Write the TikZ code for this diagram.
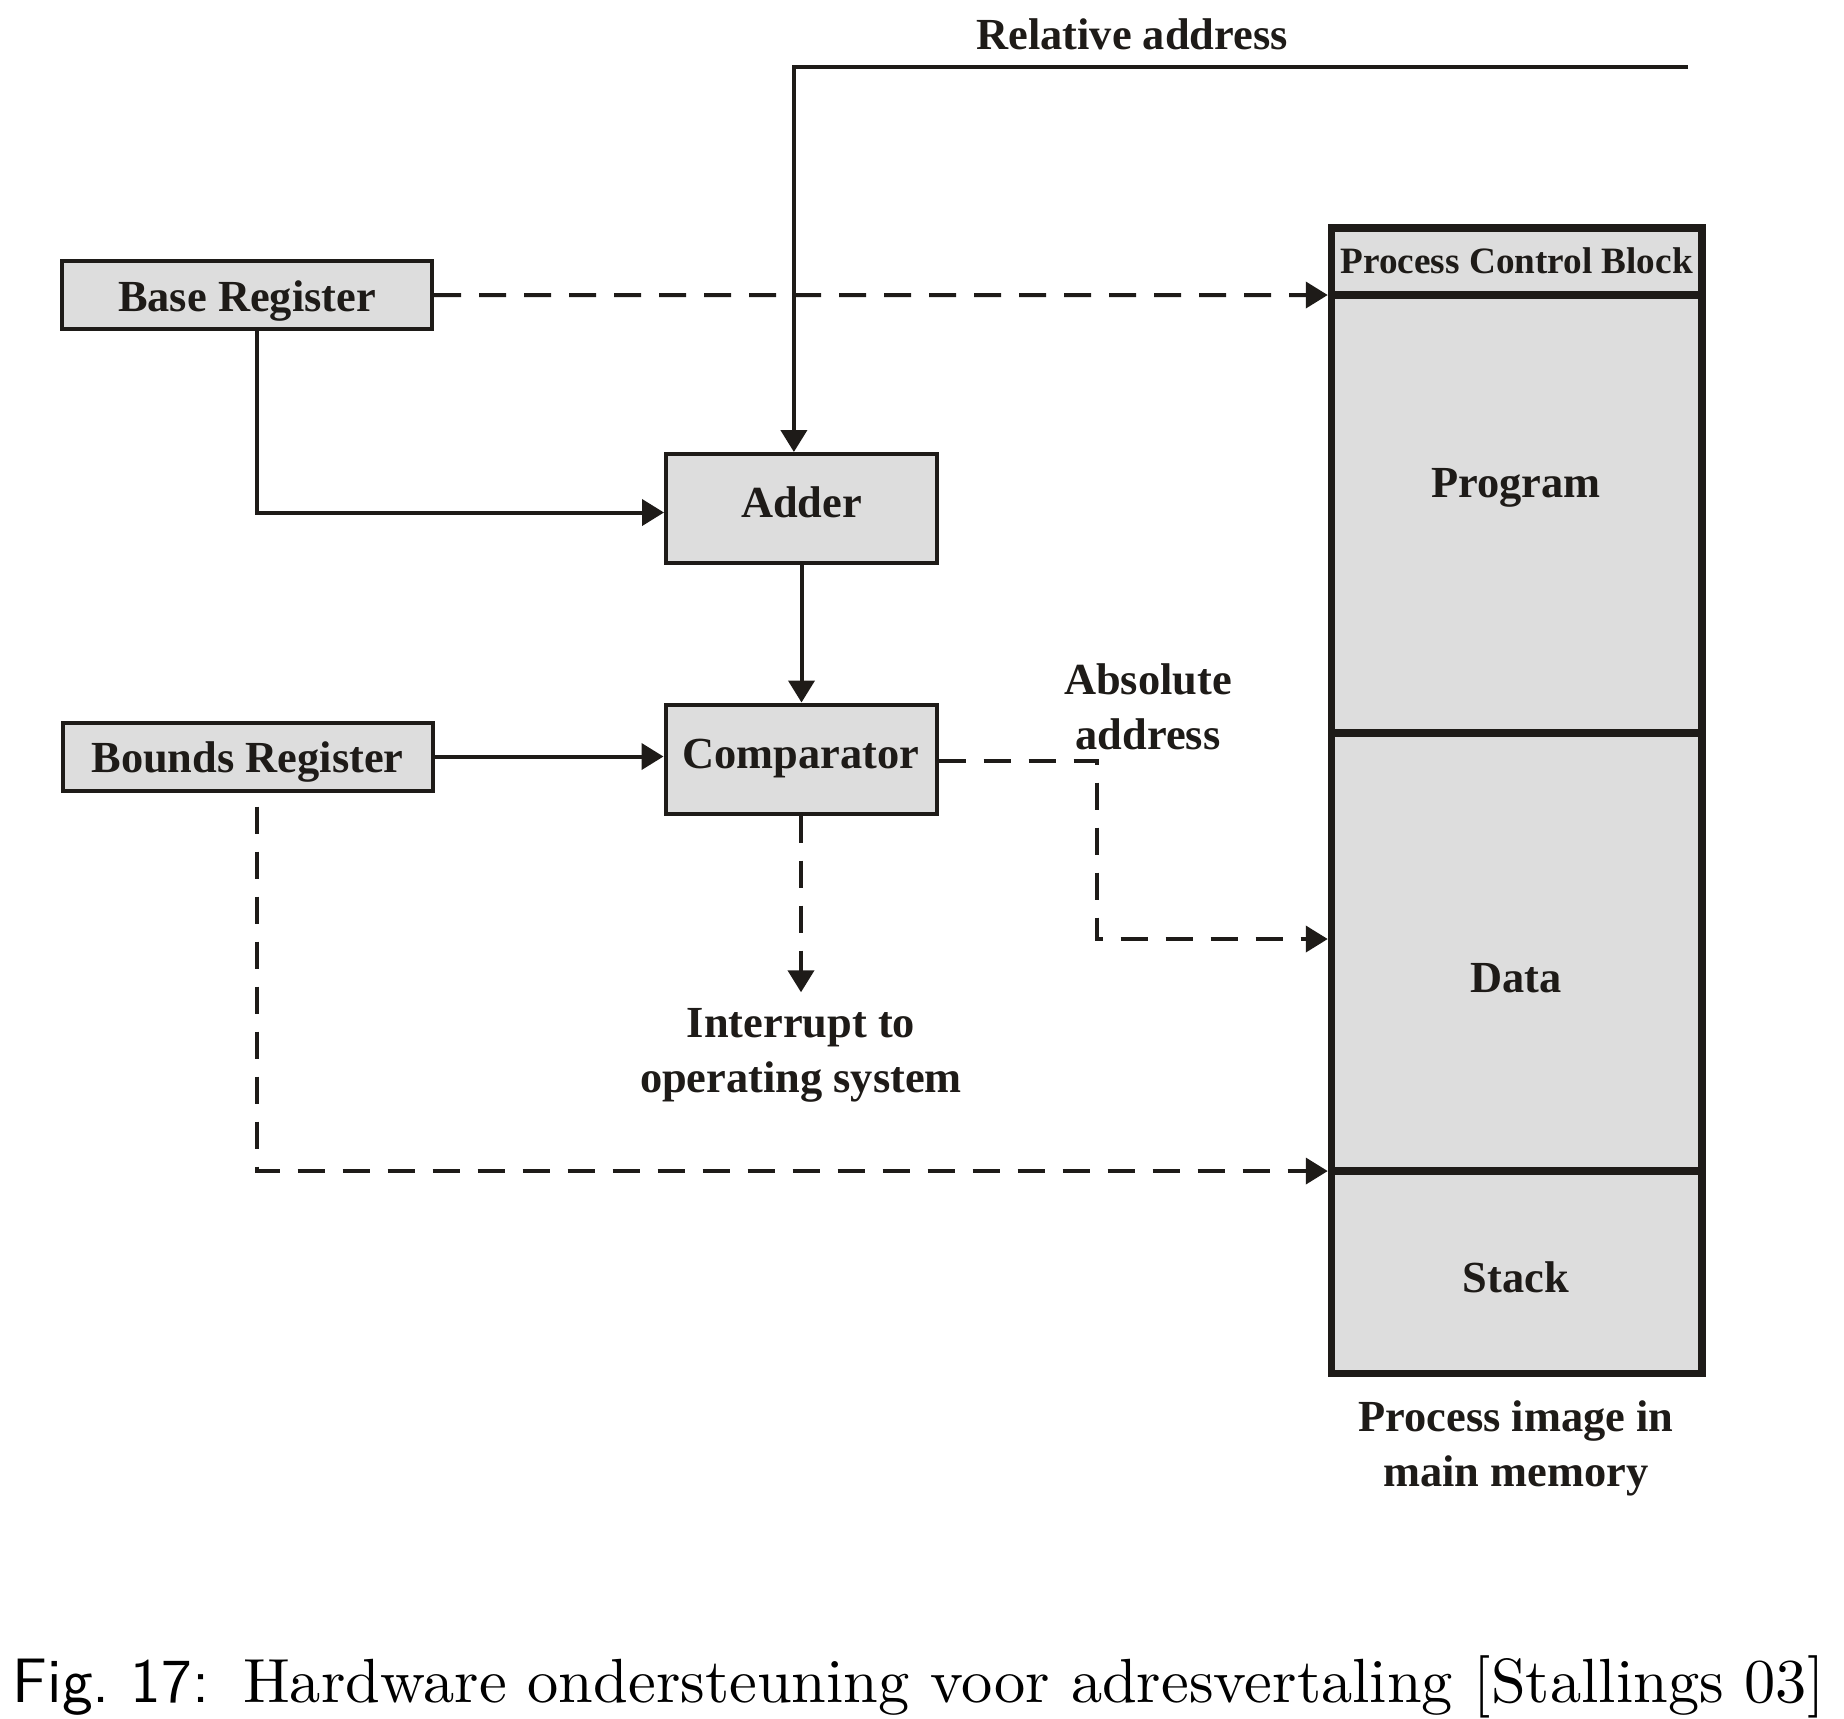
\documentclass[tikz,border=0pt]{standalone}
\usepackage{fontspec}
\newfontfamily\tnr{Liberation Serif}
\newfontfamily\caprm{lmroman10-regular.otf}
\newfontfamily\capsf{lmsans12-regular.otf}
\usetikzlibrary{arrows.meta,calc}
\definecolor{ink}{RGB}{30,27,24}
\definecolor{boxfill}{RGB}{221,221,221}
\begin{document}
\begin{tikzpicture}[x=0.25pt,y=-0.25pt,
  lbl/.style={font=\tnr\bfseries\fontsize{11.1}{13.75}\selectfont, text=ink, inner sep=0pt},
  blk/.style={draw=ink, fill=boxfill, line width=1pt, inner sep=0pt,
    font=\tnr\bfseries\fontsize{11.1}{13.75}\selectfont, text=ink},
  reg/.style={blk, minimum width=92.5pt, minimum height=17pt, text height=8pt, text depth=0pt},
  unit/.style={blk, minimum width=67.75pt, minimum height=27.25pt, text height=7.5pt, text depth=3pt},
  mem/.style={draw=ink, fill=boxfill, line width=1.9pt, minimum width=92.6pt, inner sep=0pt},
  conn/.style={draw=ink, line width=1pt, -{Triangle[length=5.5pt,width=6.5pt]}},
  dsh/.style={dash pattern=on 6.75pt off 4.5pt},
]
\useasboundingbox (0,0) rectangle (1844,1718);

% boxes
\node[reg] (base) at (247,295) {Base Register};
\node[reg] (bounds) at (247.5,756.5) {Bounds Register};
\node[unit] (adder) at (801.5,508.5) {Adder};
\node[unit] (comp) at (801,759) {Comparator};

% memory image
\node[mem, minimum height=16.75pt] (pcb) at (1516.75,261.5) {};
\node[mem, minimum height=109.5pt] (prog) at (1516.75,514) {};
\node[mem, minimum height=109.5pt] (data) at (1516.75,952) {};
\node[mem, minimum height=50.6pt] (stack) at (1516.75,1272.25) {};

\node[lbl, font=\tnr\bfseries\fontsize{9.3}{11}\selectfont, anchor=base] (pcbtxt) at (1516.75,273) {Process Control Block};
\node[lbl, anchor=base] (progtxt) at (1516,497) {Program};
\node[lbl, anchor=base] (datatxt) at (1516,992) {Data};
\node[lbl, anchor=base] (stacktxt) at (1516,1292) {Stack};
\node[lbl, align=center] (imgtxt) at (1516,1448) {Process image in\\main memory};

% labels
\node[lbl, anchor=base] (reltxt) at (1132,49) {Relative address};
\node[lbl, align=center] (abstxt) at (1148,707) {Absolute\\address};
\node[lbl, align=center] (intr) at (801,1055) {Interrupt to\\operating system};

% caption
\node[anchor=base west, inner sep=0pt, font=\caprm\fontsize{15.6}{18}\selectfont] (cap) at (12,1702)
  {{\capsf\fontsize{15.7}{18}\selectfont Fig.\ 17:}\hspace*{8.5pt}Hardware ondersteuning voor adresvertaling [Stallings 03]};

% connectors
\coordinate (relstart) at (1688,67);
\draw[conn] (relstart) -| ([xshift=-1.9pt]adder.north);
\draw[conn] ([xshift=2.4pt]base.south) |- ([yshift=-1pt]adder.west);
\draw[conn] (adder.south) -- (adder.south |- comp.north);
\draw[conn] (bounds.east) -- (bounds.east -| comp.west);
\draw[conn, dsh] (base.east) -- ($(pcb.south west)!.5!(prog.north west)$);
\coordinate (absbend) at (1097,939);
\draw[conn, dsh] ([yshift=-0.5pt]comp.east) -| (absbend) -- (absbend -| data.west);
\draw[conn, dsh] (comp.south) -- ([yshift=3.75pt]intr.north);
\draw[conn, dsh] ([xshift=2.4pt,yshift=-3.5pt]bounds.south) |- ($(data.south west)!.5!(stack.north west)$);
\end{tikzpicture}
\end{document}
